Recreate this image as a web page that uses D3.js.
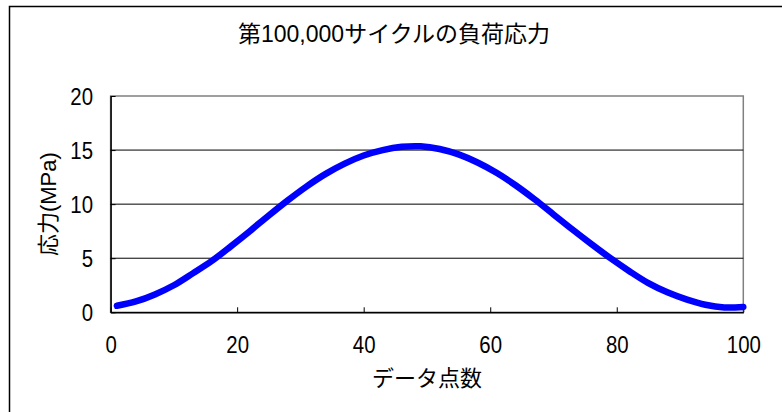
<!DOCTYPE html>
<html>
<head>
<meta charset="utf-8">
<script src="https://cdn.jsdelivr.net/npm/d3@7"></script>
<style>
  html, body { margin: 0; padding: 0; background: #fff; }
  svg { display: block; }
</style>
</head>
<body>
<svg id="chart"></svg>
<script>
// data points
const pointIndex = [1, 4, 7, 10, 13, 16, 19, 22, 25, 28, 31, 34, 37, 40, 43, 46, 49,
                    52, 55, 58, 61, 64, 67, 70, 73, 76, 79, 82, 85, 88, 91, 94, 97, 100];
const stressValues = [0.6, 1.0, 1.65, 2.5, 3.6, 4.75, 6.1, 7.5, 8.95, 10.35, 11.65, 12.8, 13.75, 14.5, 15.0, 15.3, 15.35,
                      15.1, 14.6, 13.85, 12.9, 11.75, 10.45, 9.05, 7.65, 6.3, 5.0, 3.8, 2.7, 1.85, 1.2, 0.7, 0.45, 0.5];
const xTicks = [0, 20, 40, 60, 80, 100];
const yTicks = [0, 5, 10, 15, 20];

const chartTitle = "第100,000サイクルの負荷応力";
const xTitle = "データ点数";
const yTitle = "応力(MPa)";

const width = 782, height = 412;
const margin = { top: 96, right: 38.7, bottom: 99.7, left: 110.6 };
const innerW = width - margin.left - margin.right;
const innerH = height - margin.top - margin.bottom;

const latinFont = "'Liberation Sans', Arial, sans-serif";
const jpFont = "'Liberation Sans', 'Noto Sans CJK JP', sans-serif";

const svg = d3.select("#chart")
    .attr("width", width)
    .attr("height", height)
    .style("font-family", latinFont);

// outer chart frame (runs off the right/bottom edge like the source)
svg.append("rect")
    .attr("x", 9.5).attr("y", 6.5)
    .attr("width", width + 10).attr("height", height + 10)
    .attr("fill", "none")
    .attr("stroke", "#000")
    .attr("stroke-width", 1.5);

svg.append("text")
    .attr("x", 394).attr("y", 42)
    .attr("text-anchor", "middle")
    .style("font-family", jpFont)
    .style("font-size", "23px")
    .attr("fill", "#000")
    .text(chartTitle);

const x = d3.scaleLinear().domain([0, 100]).range([0, innerW]);
const y = d3.scaleLinear().domain([0, 20]).range([innerH, 0]);

const g = svg.append("g").attr("transform", `translate(${margin.left},${margin.top})`);

// plot area border
g.append("rect")
    .attr("width", innerW).attr("height", innerH)
    .attr("fill", "#fff")
    .attr("stroke", "#808080")
    .attr("stroke-width", 1.5);

// gridlines
g.append("g")
    .selectAll("line")
    .data(yTicks.filter(d => d > 0 && d < 20))
    .join("line")
    .attr("x1", 0).attr("x2", innerW)
    .attr("y1", d => y(d)).attr("y2", d => y(d))
    .attr("stroke", "#000")
    .attr("stroke-width", 1);

const xAxis = g.append("g")
    .attr("transform", `translate(0,${innerH})`)
    .call(d3.axisBottom(x).tickValues(xTicks).tickSizeInner(-5).tickSizeOuter(0).tickPadding(24));

const yAxis = g.append("g")
    .call(d3.axisLeft(y).tickValues(yTicks).tickSizeInner(-5).tickSizeOuter(0));

[xAxis, yAxis].forEach(ax => {
    ax.attr("font-family", null).attr("font-size", null);
    ax.select(".domain").attr("stroke", "#000").attr("stroke-width", 1.5);
    ax.selectAll(".tick line").attr("stroke", "#000");
    ax.selectAll("text")
        .attr("fill", "#000")
        .style("font-family", latinFont)
        .style("font-size", "24px");
});

xAxis.selectAll("text")
    .attr("transform", "scale(0.85,1)");

yAxis.selectAll("text")
    .attr("x", 0)
    .attr("dy", "0.36em")
    .attr("transform", "translate(-17.6,0) scale(0.85,1)");

// the load curve
const line = d3.line()
    .x((d, i) => x(pointIndex[i]))
    .y(d => y(d))
    .curve(d3.curveCatmullRom);

g.append("path")
    .datum(stressValues)
    .attr("d", line)
    .attr("fill", "none")
    .attr("stroke", "#0000ff")
    .attr("stroke-width", 6.5)
    .attr("stroke-linecap", "round")
    .attr("stroke-linejoin", "round");

// axis titles
svg.append("text")
    .attr("x", margin.left + innerW / 2).attr("y", 386)
    .attr("text-anchor", "middle")
    .style("font-family", jpFont)
    .style("font-size", "22px")
    .text(xTitle);

svg.append("text")
    .attr("transform", `translate(56,${margin.top + innerH / 2}) rotate(-90)`)
    .attr("text-anchor", "middle")
    .style("font-family", jpFont)
    .style("font-size", "22px")
    .text(yTitle);
</script>
</body>
</html>
